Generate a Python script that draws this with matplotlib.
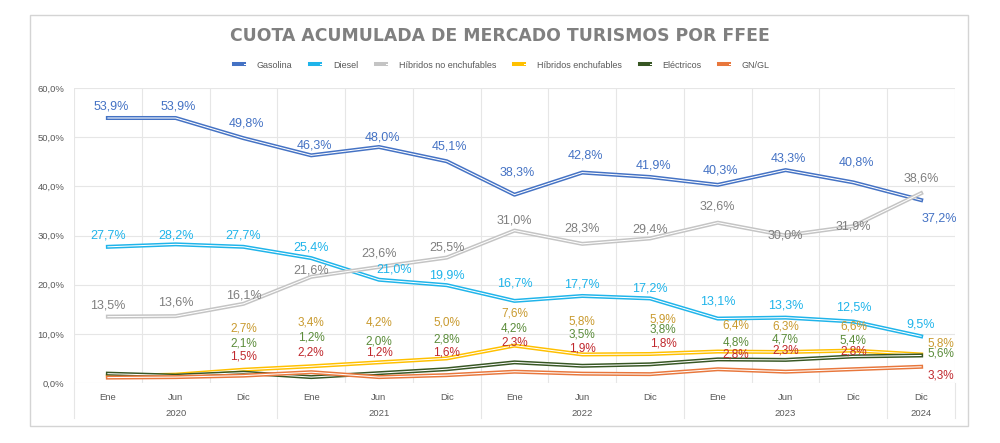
import numpy as np
import matplotlib.pyplot as plt
from matplotlib.lines import Line2D
from matplotlib.legend_handler import HandlerTuple
from matplotlib.patches import Rectangle

# Datos (cuota acumulada, %)
meses = ['Ene', 'Jun', 'Dic', 'Ene', 'Jun', 'Dic', 'Ene', 'Jun', 'Dic',
         'Ene', 'Jun', 'Dic', 'Dic']
anios = ['2020', '2021', '2022', '2023', '2024']
meses_por_anio = [3, 3, 3, 3, 1]

gasolina = [53.9, 53.9, 49.8, 46.3, 48.0, 45.1, 38.3, 42.8, 41.9, 40.3, 43.3, 40.8, 37.2]
diesel = [27.7, 28.2, 27.7, 25.4, 21.0, 19.9, 16.7, 17.7, 17.2, 13.1, 13.3, 12.5, 9.5]
hib_no_enchuf = [13.5, 13.6, 16.1, 21.6, 23.6, 25.5, 31.0, 28.3, 29.4, 32.6, 30.0, 31.9, 38.6]
hib_enchuf = [1.4, 1.7, 2.7, 3.4, 4.2, 5.0, 7.6, 5.8, 5.9, 6.4, 6.3, 6.6, 5.8]
electricos = [1.9, 1.5, 2.1, 1.2, 2.0, 2.8, 4.2, 3.5, 3.8, 4.8, 4.7, 5.4, 5.6]
gn_gl = [1.1, 1.2, 1.5, 2.2, 1.2, 1.6, 2.3, 1.9, 1.8, 2.8, 2.3, 2.8, 3.3]

# Colocacion de etiquetas (pixeles respecto al punto)
gas_dy = [-11, -11, -15, -10, -10, -15, -22, -17, -11, -14, -12, -20, 18]
gas_dx = [3] * 12 + [18]
die_dy = [-11, -9, -11, -11, -10, -10, -17, -11, -10, -17, -12, -14, -12]
die_dx = [0, 0, 0, 0, 15, 0, 0, 0, 0, 0, 0, 0, 0]
hne_dy = [-11, -14, -8, -6, -13, -10, -10, -15, -9, -16, 0, 0, -15]
hne_dx = [0] * 13
# etiquetas pequeñas: posicion vertical en % y desplazamiento horizontal en px
he_lab_y = [None, None, 11.0, 12.4, 12.4, 12.4, 14.2, 12.6, 13.0, 11.6, 11.4, 11.4, 8.1]
el_lab_y = [None, None, 8.1, 9.3, 8.5, 8.9, 11.0, 9.8, 10.8, 8.3, 8.9, 8.7, 6.1]
gn_lab_y = [None, None, 5.3, 6.3, 6.3, 6.3, 8.3, 7.1, 8.1, 5.7, 6.7, 6.5, 1.6]
small_dx = [0, 0, 0, 0, 0, 0, 0, 0, 13, 18, 0, 0, 20]

series = [
    ('Gasolina', gasolina, '#4472C4', '#4472C4'),
    ('Diesel', diesel, '#1FB4EA', '#1FB4EA'),
    ('Híbridos no enchufables', hib_no_enchuf, '#C4C4C4', '#7F7F7F'),
    ('Híbridos enchufables', hib_enchuf, '#FFC000', '#C99A2E'),
    ('Eléctricos', electricos, '#375623', '#5B8C3A'),
    ('GN/GL', gn_gl, '#E8773C', '#C0282D'),
]

PX = 72 / 100  # puntos por pixel


def fmt(v):
    return f'{v:.1f}%'.replace('.', ',')


fig = plt.figure(figsize=(10, 4.43), dpi=100)
fig.patch.set_facecolor('white')
fig.patches.append(Rectangle((0.030, 1 - 426 / 443), 0.938, 411 / 443,
                             transform=fig.transFigure, fill=False,
                             edgecolor='#D4D4D4', lw=1))

ax = fig.add_axes([0.074, 1 - 383 / 443, 0.881, 295 / 443])
x = np.arange(len(meses))
ax.set_xlim(-0.5, len(meses) - 0.5)
ax.set_ylim(0, 60)

grid_c = '#E6E6E6'
ax.set_yticks(range(0, 61, 10))
ax.set_yticklabels([f'{v},0%' for v in range(0, 61, 10)])
for yv in range(0, 61, 10):
    ax.axhline(yv, color=grid_c, lw=0.8, zorder=0)
for b in np.arange(-0.5, len(meses), 1.0):
    ax.axvline(b, color=grid_c, lw=0.8, zorder=0)
for s in ax.spines.values():
    s.set_visible(False)

ax.set_xticks(x)
ax.set_xticklabels(meses)
ax.tick_params(axis='both', length=0, labelsize=6.8, labelcolor='#595959')
ax.tick_params(axis='x', pad=7)
ax.tick_params(axis='y', pad=7)
for lab in ax.get_xticklabels() + ax.get_yticklabels():
    lab.set_family('Liberation Sans')

# separadores de año y etiquetas de año
xt = ax.get_xaxis_transform()
bordes = np.concatenate([[0], np.cumsum(meses_por_anio)]) - 0.5
for b in bordes:
    ax.plot([b, b], [0, -0.12], transform=xt, color=grid_c, lw=0.8, clip_on=False)
for i, a in enumerate(anios):
    c = (bordes[i] + bordes[i + 1]) / 2
    ax.text(c, -0.102, a, transform=xt, ha='center', va='center',
            fontsize=6.8, color='#595959', family='Liberation Sans')

# lineas dobles
handles = []
for k, (nombre, vals, col, lcol) in enumerate(series):
    ax.plot(x, vals, color=col, lw=2.9, solid_joinstyle='round', zorder=3 + k)
    ax.plot(x, vals, color='white', lw=0.75, solid_joinstyle='round', zorder=3 + k)
    handles.append((Line2D([], [], color=col, lw=2.9),
                    Line2D([], [], color='white', lw=0.75)))

# etiquetas de datos
big = [(gasolina, gas_dx, gas_dy, series[0][3]),
       (diesel, die_dx, die_dy, series[1][3]),
       (hib_no_enchuf, hne_dx, hne_dy, series[2][3])]
for vals, dxs, dys, lcol in big:
    for i, v in enumerate(vals):
        ax.annotate(fmt(v), (x[i], v), xytext=(dxs[i] * PX, -dys[i] * PX),
                    textcoords='offset points', ha='center', va='center',
                    fontsize=9, color=lcol, family='Liberation Sans', zorder=20)

small = [(hib_enchuf, he_lab_y, series[3][3]),
         (electricos, el_lab_y, series[4][3]),
         (gn_gl, gn_lab_y, series[5][3])]
for vals, ys, lcol in small:
    for i, v in enumerate(vals):
        if ys[i] is None:
            continue
        ax.annotate(fmt(v), (x[i], ys[i]), xytext=(small_dx[i] * PX, 0),
                    textcoords='offset points', ha='center', va='center',
                    fontsize=8.5, color=lcol, family='Liberation Sans', zorder=20)

fig.text(0.5, 1 - 36 / 443, 'CUOTA ACUMULADA DE MERCADO TURISMOS POR FFEE',
         ha='center', va='center', fontsize=12.4, weight='bold', color='#808080',
         family='DejaVu Sans')

leg = fig.legend(handles, [s[0] for s in series], loc='center',
                 bbox_to_anchor=(0.502, 1 - 65 / 443), ncol=6, frameon=False,
                 handler_map={tuple: HandlerTuple(ndivide=None, pad=0)},
                 prop={'family': 'Liberation Sans', 'size': 6.5},
                 labelcolor='#595959', handlelength=2.2, handletextpad=0.3,
                 columnspacing=2.0)

fig.savefig('out.png', dpi=100, facecolor='white')
